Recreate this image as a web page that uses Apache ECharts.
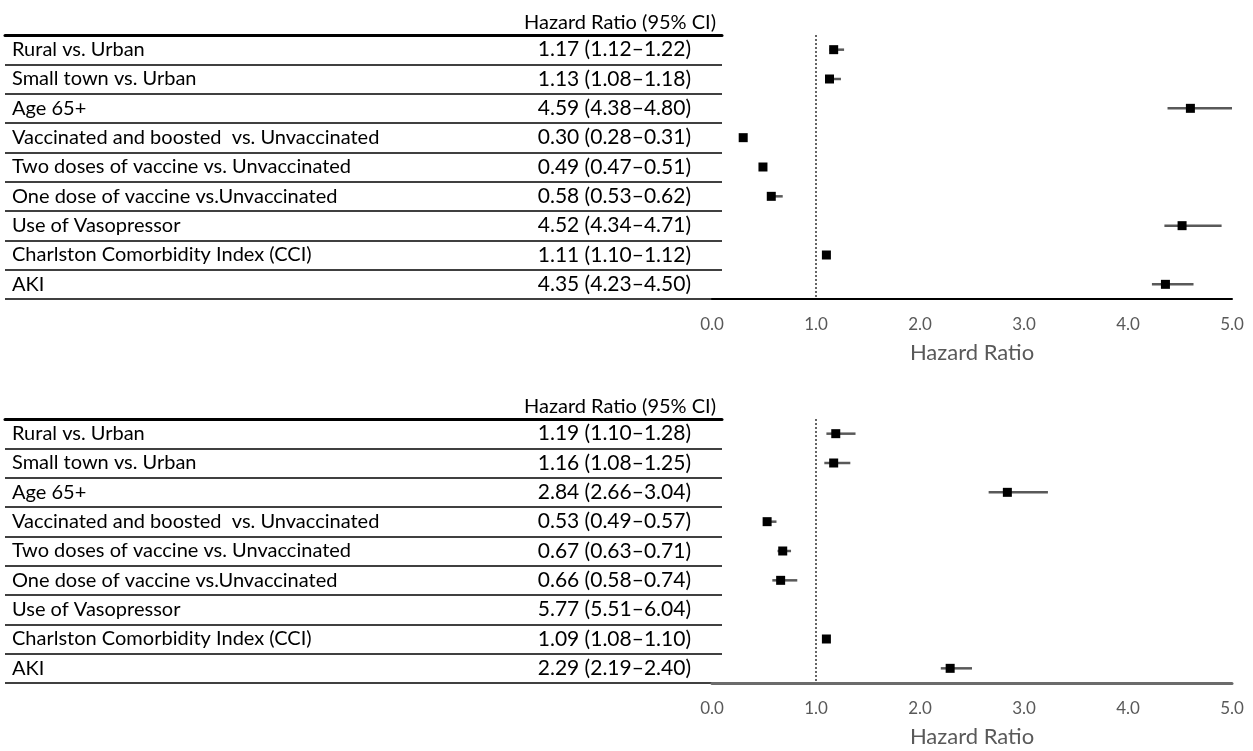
<!DOCTYPE html>
<html>
<head>
<meta charset="utf-8">
<script src="https://cdn.jsdelivr.net/npm/echarts@6/dist/echarts.min.js"></script>
<style>
  html, body { margin: 0; padding: 0; background: #fff; }
  #main { width: 1253px; height: 751px; }
</style>
</head>
<body>
<div id="main"></div>
<script>
// rows of the table (same for both panels)
var rowLabels = [
  'Rural vs. Urban',
  'Small town vs. Urban',
  'Age 65+',
  'Vaccinated and boosted  vs. Unvaccinated',
  'Two doses of vaccine vs. Unvaccinated',
  'One dose of vaccine vs.Unvaccinated',
  'Use of Vasopressor',
  'Charlston Comorbidity Index (CCI)',
  'AKI'
];

// text column
var topCI = [
  '1.17 (1.12\u20131.22)', '1.13 (1.08\u20131.18)', '4.59 (4.38\u20134.80)',
  '0.30 (0.28\u20130.31)', '0.49 (0.47\u20130.51)', '0.58 (0.53\u20130.62)',
  '4.52 (4.34\u20134.71)', '1.11 (1.10\u20131.12)', '4.35 (4.23\u20134.50)'
];
var bottomCI = [
  '1.19 (1.10\u20131.28)', '1.16 (1.08\u20131.25)', '2.84 (2.66\u20133.04)',
  '0.53 (0.49\u20130.57)', '0.67 (0.63\u20130.71)', '0.66 (0.58\u20130.74)',
  '5.77 (5.51\u20136.04)', '1.09 (1.08\u20131.10)', '2.29 (2.19\u20132.40)'
];

// plotted marks
var topPoint = [1.17, 1.13, 4.60, 0.30, 0.49, 0.57, 4.52, 1.10, 4.36];
var topLow   = [1.13, 1.09, 4.38, 0.28, 0.47, 0.53, 4.35, 1.09, 4.23];
var topHigh  = [1.27, 1.24, 5.00, 0.32, 0.52, 0.68, 4.90, 1.12, 4.63];

var bottomPoint = [1.19, 1.17, 2.84, 0.53, 0.68, 0.66, null, 1.10, 2.29];
var bottomLow   = [1.10, 1.08, 2.66, 0.49, 0.63, 0.58, null, 1.08, 2.20];
var bottomHigh  = [1.38, 1.33, 3.23, 0.62, 0.76, 0.82, null, 1.12, 2.50];

var header = 'Hazard Ratio (95% CI)';
var xName = 'Hazard Ratio';

var FONT = 'Lato';
var chart = echarts.init(document.getElementById('main'));

function pts(vals) {
  var out = [];
  vals.forEach(function (v, i) { if (v != null) out.push([v, i]); });
  return out;
}
function bars(lo, hi) {
  var out = [];
  lo.forEach(function (v, i) { if (v != null) out.push([v, hi[i], i]); });
  return out;
}
function whisker(params, api) {
  var a = api.coord([api.value(0), api.value(2)]);
  var b = api.coord([api.value(1), api.value(2)]);
  return {
    type: 'line',
    shape: { x1: a[0], y1: a[1], x2: b[0], y2: b[1] },
    style: { stroke: '#595959', lineWidth: 2.5 }
  };
}

var panelTop = [35, 419];
var gridH = 264;

var grids = [], xAxes = [], yAxes = [], series = [], titles = [];
[0, 1].forEach(function (p) {
  var top = panelTop[p];
  var ci = p === 0 ? topCI : bottomCI;
  var g = p * 2;
  grids.push({ left: 5, width: 717, top: top, height: gridH });
  grids.push({ left: 712, width: 520, top: top, height: gridH });

  // table grid: thick rule on top
  xAxes.push({
    gridIndex: g, type: 'value', position: 'top', min: 0, max: 1,
    axisLine: { show: true, lineStyle: { color: '#000', width: 3 } },
    axisTick: { show: false }, axisLabel: { show: false }, splitLine: { show: false }
  });
  // plot grid x axis
  xAxes.push({
    gridIndex: g + 1, type: 'value', min: 0, max: 5, interval: 1,
    axisLine: { show: true, lineStyle: { color: p === 0 ? '#000' : '#6b6b6b', width: p === 0 ? 2 : 3 } },
    axisTick: { show: false }, splitLine: { show: false },
    axisLabel: {
      margin: 17, color: '#595959', fontFamily: FONT, fontSize: 17,
      formatter: function (v) { return v.toFixed(1); }
    },
    name: xName, nameLocation: 'middle', nameGap: 43,
    nameTextStyle: { color: '#595959', fontFamily: FONT, fontSize: 22 }
  });

  yAxes.push({
    gridIndex: g, type: 'category', data: rowLabels, inverse: true,
    axisLine: { show: false }, axisTick: { show: false },
    axisLabel: { inside: true, margin: 7, color: '#000', fontFamily: FONT, fontSize: 20 },
    splitLine: { show: true, lineStyle: { color: '#000', width: 1.5 } }
  });
  yAxes.push({
    gridIndex: g, type: 'category', data: ci, inverse: true, position: 'right',
    axisLine: { show: false }, axisTick: { show: false },
    axisLabel: { inside: true, margin: 31, color: '#000', fontFamily: FONT, fontSize: 21 },
    splitLine: { show: false }
  });
  yAxes.push({
    gridIndex: g + 1, type: 'category', data: rowLabels, inverse: true, show: false
  });

  titles.push({
    text: header, left: 519, top: top - 27,
    textStyle: { color: '#000', fontFamily: FONT, fontSize: 20, fontWeight: 'normal' }
  });

  var yIdx = p * 3 + 2;
  series.push({
    type: 'custom', xAxisIndex: g + 1, yAxisIndex: yIdx,
    renderItem: whisker,
    data: p === 0 ? bars(topLow, topHigh) : bars(bottomLow, bottomHigh),
    z: 2
  });
  series.push({
    type: 'scatter', xAxisIndex: g + 1, yAxisIndex: yIdx,
    symbol: 'rect', symbolSize: 9,
    itemStyle: { color: '#000', opacity: 1 },
    data: p === 0 ? pts(topPoint) : pts(bottomPoint),
    z: 3,
    markLine: {
      silent: true, symbol: 'none', label: { show: false },
      lineStyle: { color: '#333', width: 1.5, type: [2, 2] },
      data: [{ xAxis: 1 }]
    }
  });
});

chart.setOption({
  animation: false,
  backgroundColor: '#fff',
  title: titles,
  grid: grids,
  xAxis: xAxes,
  yAxis: yAxes,
  series: series
});
</script>
</body>
</html>
